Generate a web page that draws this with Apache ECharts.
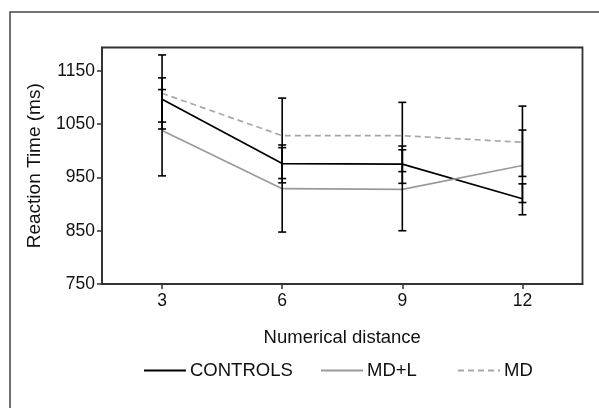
<!DOCTYPE html>
<html>
<head>
<meta charset="utf-8">
<script src="https://cdn.jsdelivr.net/npm/echarts@6/dist/echarts.min.js"></script>
<style>
html,body{margin:0;padding:0;background:#fff;}
#c{width:599px;height:408px;}
</style>
</head>
<body>
<div id="c"></div>
<script>
// Data
var distances = [3, 6, 9, 12];
var xTicks = [3, 6, 9, 12];
var yTicks = [750, 850, 950, 1050, 1150];
var seriesNames = ['CONTROLS', 'MD+L', 'MD'];
var controlsMean = [1097, 976, 975, 910];
var mdlMean = [1038, 929, 927.5, 972.5];
var mdMean = [1108, 1028.5, 1028.5, 1016];
var controlsLow = [1054, 940, 939, 880];
var controlsHigh = [1137, 1011, 1009, 938];
var mdlLow = [953, 847.5, 850, 903];
var mdlHigh = [1115, 1006, 1002, 1039];
var mdLow = [1041, 948, 961, 952];
var mdHigh = [1180, 1099, 1091, 1084];

var FONT = '"Liberation Sans", Arial, sans-serif';

function pairs(means) {
  return distances.map(function (d, i) { return [d, means[i]]; });
}
function bars(low, high) {
  return distances.map(function (d, i) { return [d, low[i], high[i]]; });
}

function errRender(params, api) {
  var x = api.value(0);
  var lo = api.coord([x, api.value(1)]);
  var hi = api.coord([x, api.value(2)]);
  var w = 4;
  var st = { stroke: '#000', lineWidth: 1.6 };
  return {
    type: 'group',
    children: [
      { type: 'line', shape: { x1: hi[0], y1: hi[1], x2: lo[0], y2: lo[1] }, style: st },
      { type: 'line', shape: { x1: hi[0] - w, y1: hi[1], x2: hi[0] + w, y2: hi[1] }, style: st },
      { type: 'line', shape: { x1: lo[0] - w, y1: lo[1], x2: lo[0] + w, y2: lo[1] }, style: st }
    ]
  };
}

var lineStyles = [
  { color: '#000', width: 1.7, type: 'solid' },
  { color: '#9a9a9a', width: 1.7, type: 'solid' },
  { color: '#a8a8a8', width: 1.7, type: [6, 4] }
];
var means = [controlsMean, mdlMean, mdMean];
var lows = [controlsLow, mdlLow, mdLow];
var highs = [controlsHigh, mdlHigh, mdHigh];

var series = [];
for (var i = 0; i < 3; i++) {
  series.push({
    name: seriesNames[i],
    type: 'line',
    data: pairs(means[i]),
    symbol: 'none',
    showSymbol: false,
    lineStyle: lineStyles[i],
    itemStyle: { color: lineStyles[i].color },
    z: 2,
    silent: true,
    animation: false
  });
}
for (var j = 0; j < 3; j++) {
  series.push({
    type: 'custom',
    renderItem: errRender,
    data: bars(lows[j], highs[j]),
    encode: { x: 0, y: [1, 2] },
    z: 5,
    silent: true,
    animation: false
  });
}

var legendLefts = [143, 320, 457];
var legends = seriesNames.map(function (n, i) {
  return {
    data: [n],
    left: legendLefts[i],
    top: 361,
    itemWidth: 42,
    itemHeight: 16,
    itemGap: 0,
    padding: 0,
    selectedMode: false,
    itemStyle: { opacity: 0 },
    textStyle: { fontFamily: FONT, fontSize: 18.5, color: '#111', padding: [0, 0, 0, -1] }
  };
});

function plain(v) { return String(v); }

var chart = echarts.init(document.getElementById('c'), null, { renderer: 'canvas' });
chart.setOption({
  animation: false,
  backgroundColor: '#fff',
  textStyle: { fontFamily: FONT },
  graphic: [{
    type: 'rect',
    shape: { x: 10, y: 12, width: 640, height: 440 },
    style: { fill: 'none', stroke: '#444', lineWidth: 1.5 },
    z: -10, silent: true
  }],
  legend: legends,
  grid: {
    left: 102, right: 16.5, top: 47.5, bottom: 124,
    show: true, borderColor: '#333', borderWidth: 1.8, backgroundColor: 'transparent'
  },
  xAxis: {
    type: 'value',
    min: 1.5, max: 13.5,
    name: 'Numerical distance',
    nameLocation: 'middle',
    nameGap: 44,
    nameTextStyle: { fontFamily: FONT, fontSize: 18.5, color: '#111' },
    axisLine: { show: true, onZero: false, lineStyle: { color: '#333', width: 1.8 } },
    axisTick: { show: true, length: 5, customValues: xTicks, lineStyle: { color: '#333', width: 1.5 } },
    axisLabel: { customValues: xTicks, formatter: plain, margin: 8, fontFamily: FONT, fontSize: 17.5, color: '#111' },
    splitLine: { show: false }
  },
  yAxis: {
    type: 'value',
    min: 750, max: 1194,
    name: 'Reaction Time (ms)',
    nameLocation: 'middle',
    nameGap: 58,
    nameTextStyle: { fontFamily: FONT, fontSize: 19, color: '#111' },
    axisLine: { show: true, onZero: false, lineStyle: { color: '#333', width: 1.8 } },
    axisTick: { show: true, length: 5, customValues: yTicks, lineStyle: { color: '#333', width: 1.5 } },
    axisLabel: { customValues: yTicks, formatter: plain, margin: 7, fontFamily: FONT, fontSize: 17.5, color: '#111' },
    splitLine: { show: false }
  },
  series: series
});
</script>
</body>
</html>
